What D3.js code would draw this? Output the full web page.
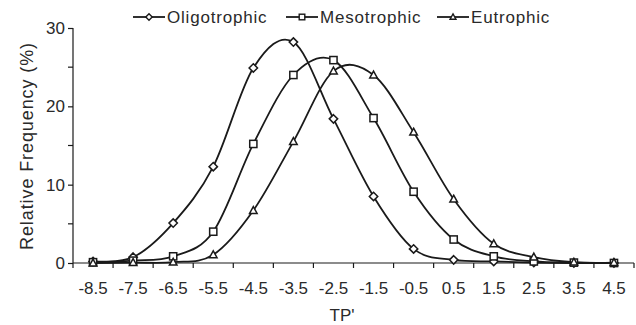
<!DOCTYPE html>
<html>
<head>
<meta charset="utf-8">
<script src="https://cdn.jsdelivr.net/npm/d3@7"></script>
<style>
  html, body { margin: 0; padding: 0; background: #fff; }
  svg { display: block; font-family: "Liberation Sans", Arial, sans-serif; }
</style>
</head>
<body>
<div id="chart"></div>
<script>
// TP' classes (category axis)
const categories = ['-8.5', '-7.5', '-6.5', '-5.5', '-4.5', '-3.5', '-2.5', '-1.5', '-0.5', '0.5', '1.5', '2.5', '3.5', '4.5'];

const oligotrophic = [0.2, 0.75, 5.1, 12.3, 24.9, 28.2, 18.4, 8.5, 1.8, 0.4, 0.2, 0.05, 0, 0];
const mesotrophic = [0.1, 0.3, 0.85, 4.0, 15.2, 24.0, 25.9, 18.5, 9.1, 3.0, 0.85, 0.2, 0.05, 0];
const eutrophic = [0, 0.05, 0.1, 1.05, 6.7, 15.5, 24.5, 24.0, 16.7, 8.15, 2.45, 0.75, 0.1, 0.05];

const series = [
  { name: 'Oligotrophic', values: oligotrophic, marker: 'diamond' },
  { name: 'Mesotrophic', values: mesotrophic, marker: 'square' },
  { name: 'Eutrophic', values: eutrophic, marker: 'triangle' },
];

const yTicks = [0, 10, 20, 30];
const yMinor = [5, 15, 25];

const width = 636;
const height = 325;
const margin = { top: 28, right: 2, bottom: 62, left: 73 };
const ink = '#1a1a1a';
const textCol = '#2a2a2a';

const svg = d3.select('#chart').append('svg')
  .attr('width', width)
  .attr('height', height);

const x = d3.scaleBand()
  .domain(categories)
  .range([margin.left, width - margin.right]);

const y = d3.scaleLinear()
  .domain([0, 30])
  .range([height - margin.bottom, margin.top]);

// y axis
const yAxis = svg.append('g')
  .attr('transform', `translate(${margin.left},0)`)
  .call(d3.axisLeft(y).tickValues(yTicks).tickSize(5).tickPadding(3).tickFormat(d3.format('d')));
yAxis.select('.domain').attr('stroke', ink).attr('stroke-width', 1.2).attr('d', `M0,${y(0)}V${y(30)}`);
yAxis.selectAll('.tick line').attr('stroke', ink).attr('stroke-width', 1.2);
yAxis.selectAll('.tick text').attr('font-size', 17).attr('fill', textCol)
  .attr('font-family', '"Liberation Sans", Arial, sans-serif');
yAxis.selectAll('.minor').data(yMinor).join('line')
  .attr('class', 'minor')
  .attr('x1', -5).attr('x2', 0)
  .attr('y1', d => y(d)).attr('y2', d => y(d))
  .attr('stroke', ink).attr('stroke-width', 1.2);

// x axis: ticks between categories, labels centered
const xAxis = svg.append('g').attr('transform', `translate(0,${y(0)})`);
xAxis.append('line')
  .attr('x1', x.range()[0]).attr('x2', x.range()[1])
  .attr('stroke', ink).attr('stroke-width', 1.2);
const edges = categories.map(c => x(c)).concat([x.range()[1]]);
xAxis.selectAll('.tk').data(edges).join('line')
  .attr('class', 'tk')
  .attr('x1', d => d).attr('x2', d => d)
  .attr('y1', 0).attr('y2', 5)
  .attr('stroke', ink).attr('stroke-width', 1.2);
xAxis.selectAll('.lbl').data(categories).join('text')
  .attr('class', 'lbl')
  .attr('x', d => x(d) + x.bandwidth() / 2)
  .attr('y', 31)
  .attr('text-anchor', 'middle')
  .attr('font-size', 17)
  .attr('fill', textCol)
  .text(d => d);

// axis titles
svg.append('text')
  .attr('x', 342).attr('y', 321)
  .attr('text-anchor', 'middle')
  .attr('font-size', 17).attr('fill', textCol)
  .text("TP'");

svg.append('text')
  .attr('transform', 'translate(33,146) rotate(-90)')
  .attr('text-anchor', 'middle')
  .attr('font-size', 18).attr('letter-spacing', 0.9).attr('fill', textCol)
  .text('Relative Frequency (%)');

// marker shapes
function drawMarker(g, type, cx, cy, s) {
  if (type === 'diamond') {
    g.append('path')
      .attr('d', `M${cx},${cy - s}L${cx + s},${cy}L${cx},${cy + s}L${cx - s},${cy}Z`);
  } else if (type === 'square') {
    g.append('rect')
      .attr('x', cx - s).attr('y', cy - s)
      .attr('width', 2 * s).attr('height', 2 * s);
  } else {
    g.append('path')
      .attr('d', `M${cx},${cy - s * 1.1}L${cx + s * 1.05},${cy + s * 0.8}L${cx - s * 1.05},${cy + s * 0.8}Z`);
  }
}

const line = d3.line()
  .x((d, i) => x(categories[i]) + x.bandwidth() / 2)
  .y(d => y(d))
  .curve(d3.curveCardinal.tension(0));

series.forEach(s => {
  svg.append('path')
    .datum(s.values)
    .attr('fill', 'none')
    .attr('stroke', ink)
    .attr('stroke-width', 1.8)
    .attr('d', line);
});

series.forEach(s => {
  const g = svg.append('g')
    .attr('fill', '#fff')
    .attr('stroke', ink)
    .attr('stroke-width', 1.5);
  s.values.forEach((v, i) => {
    drawMarker(g, s.marker, x(categories[i]) + x.bandwidth() / 2, y(v), s.marker === 'diamond' ? 4.2 : 3.6);
  });
});

// legend
const legendX = [133, 286, 437];
series.forEach((s, i) => {
  const lx = legendX[i];
  const ly = 17;
  const g = svg.append('g');
  g.append('line')
    .attr('x1', lx).attr('x2', lx + 32)
    .attr('y1', ly).attr('y2', ly)
    .attr('stroke', ink).attr('stroke-width', 1.8);
  const mg = g.append('g').attr('fill', '#fff').attr('stroke', ink).attr('stroke-width', 1.4);
  drawMarker(mg, s.marker, lx + 16, ly, s.marker === 'diamond' ? 3.2 : 2.8);
  g.append('text')
    .attr('x', lx + 34).attr('y', ly + 6)
    .attr('font-size', 17).attr('letter-spacing', 0.8).attr('fill', textCol)
    .text(s.name);
});
</script>
</body>
</html>
